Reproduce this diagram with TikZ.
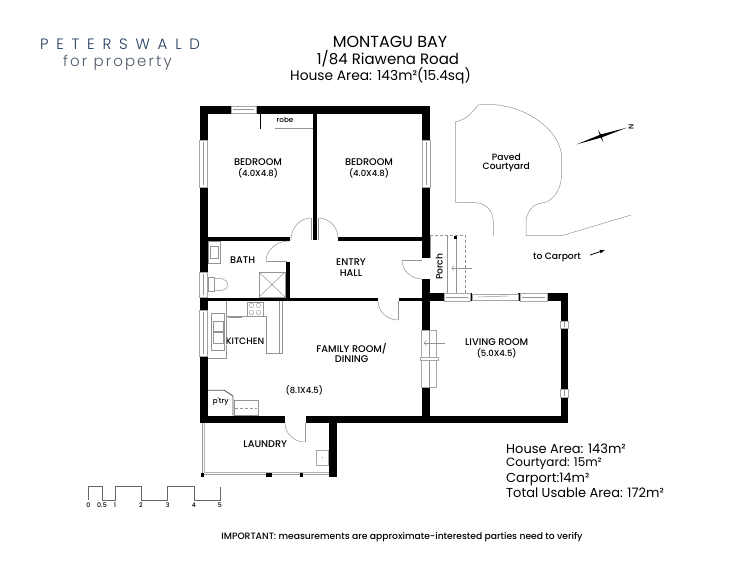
\documentclass[tikz,border=0pt]{standalone}
\usepackage{fontspec}
\setmainfont{Poppins}
\newfontfamily\logofont[LetterSpace=52]{Poppins Light}
\newfontfamily\logosubfont[LetterSpace=14]{Poppins Light}
\newfontfamily\roomfont{Poppins Medium}
\usetikzlibrary{calc,positioning}
\definecolor{logonavy}{HTML}{1F3A5C}
\definecolor{logogrey}{HTML}{4A5766}
\tikzset{
    wall/.style={fill=black,draw=none},
    fitting/.style={draw=black!42,line width=0.5pt},
    frame/.style={draw=black!35,fill=white,line width=0.6pt},
    room/.style={font=\roomfont\fontsize{9.7}{11}\selectfont,inner sep=0pt,text=black},
    roomsize/.style={room,font=\roomfont\fontsize{8.5}{10}\selectfont},
    roomsmall/.style={room,font=\roomfont\fontsize{7.2}{9}\selectfont},
    roomlower/.style={room,font=\roomfont\fontsize{9.2}{11}\selectfont},
    areatext/.style={font=\fontsize{13}{15}\selectfont,inner sep=0pt,anchor=west,text=black},
    scaletext/.style={font=\roomfont\fontsize{6.3}{7}\selectfont,inner sep=0pt,text=black}
}
\newcommand{\doorarc}[3]{\draw[fitting] (#1) .. controls ($(#1)!0.55!(#2)$) and ($(#3)!0.55!(#2)$) .. (#3);}
\begin{document}
\begin{tikzpicture}[x=1pt,y=-1pt]
    \useasboundingbox (0,0) rectangle (750,579);

    \node[inner sep=0pt,text=logonavy,font=\logofont\fontsize{15}{17}\selectfont] (logomain) at (120,44) {PETERSWALD};
    \node[inner sep=0pt,text=logogrey,font=\logosubfont\fontsize{15}{17}\selectfont] (logosub) at (117.5,63) {for property};

    \node[inner sep=0pt,font=\fontsize{16}{18}\selectfont] (titlename) at (390,42) {MONTAGU BAY};
    \node[inner sep=0pt,font=\fontsize{15}{17}\selectfont] (titleaddr) at (388,59) {1/84 Riawena Road};
    \node[inner sep=0pt,font=\fontsize{13.8}{16}\selectfont] (titlearea) at (380.5,76) {House Area: 143m²(15.4sq)};

    \foreach \a/\b/\c/\d in {
        200/106/430/113.5, 200/106/207.5/423, 422/106/429.5/258, 422/279/429.5/423,
        313/113/316.7/240, 207/237/290/240.5, 338/237/422/240.5,
        286/262/289.5/298, 200/297.5/378/301, 399/297.5/422/301,
        429/293/444/301, 547/293/568/301, 470/293/472/301, 518/293/520/301,
        561/293/568/423, 200/416/285/423.3, 305.7/416/568/423.3,
        329/423/336.7/476.7} {
        \fill[wall] (\a,\b) rectangle (\c,\d);
    }

    \foreach \a/\b/\c/\d in {
        231/106/256/113.5, 199.5/140/207.5/187, 422/140/430/187,
        199.5/272/207.5/297, 199.5/310/207.5/356, 444/293/470/301,
        520/293/547/301, 560.5/321/568.5/328, 560.5/389/568.5/397} {
        \draw[frame] (\a,\b) rectangle (\c,\d);
    }
    \draw[fitting] (233,109.7) -- (254,109.7);
    \draw[fitting] (203.5,142) -- (203.5,185);
    \draw[fitting] (426,142) -- (426,185);
    \draw[fitting] (203.5,274) -- (203.5,295);
    \draw[fitting] (203.5,312) -- (203.5,354);
    \draw[fitting] (446,297) -- (468,297);
    \draw[fitting] (522,297) -- (545,297);
    \draw[fitting] (564.5,322) -- (564.5,327);
    \draw[fitting] (564.5,390) -- (564.5,396);
    \draw[frame] (472,294) rectangle (518,300);
    \draw[fitting] (478,297) -- (508,296);

    \fill[wall] (260,113) rectangle (261.2,129);
    \draw[fitting] (275,128.5) -- (313,128.5);

    \doorarc{291,240}{291,218}{311,218}
    \draw[fitting] (311,218) -- (311,240);
    \doorarc{338,238}{338,218}{318.3,218}
    \draw[fitting] (318.3,218) -- (318.3,240);
    \doorarc{289,241}{266,241}{266,261}
    \draw[fitting] (266,261) -- (287,261);
    \doorarc{402,260}{402,279}{422,279}
    \draw[fitting] (402,260) -- (422,260);
    \doorarc{378,301}{378,320}{398,320}
    \draw[fitting] (398,301) -- (398,320);
    \doorarc{285,423}{285,442}{305,442}
    \draw[fitting] (305,423) -- (305,442);

    \draw[fitting] (208,241.5) rectangle (220.7,263.3);
    \draw[fitting] (210,246.5) rectangle (218.5,258.5);
    \draw[fitting] (208,277.5) rectangle (214,291.5);
    \draw[fitting] (214,279) .. controls (219,277) and (228,279) .. (228,285) .. controls (228,290) and (219,292) .. (214,290);
    \draw[fitting] (259,272) rectangle (285,297);
    \draw[fitting] (259,272) -- (285,297);
    \draw[fitting] (285,272) -- (259,297);

    \draw[fitting] (226,301) -- (226,316) -- (266.7,316);
    \draw[fitting] (266.7,316) -- (266.7,353) -- (282.7,353) -- (282.7,301);
    \draw[fitting] (279.3,301) -- (279.3,353);
    \draw[fitting] (247,302) rectangle (263,316);
    \foreach \a/\b in {251.5/305.5, 258.5/305.5, 251.5/312.5, 258.5/312.5} {
        \draw[fitting,line width=0.4pt] (\a,\b) circle (2.2);
    }
    \draw[fitting] (228,317.5) -- (241.5,317.5);
    \draw[fitting] (208,358.3) -- (226,358.3) -- (226,316);
    \draw[fitting] (211,313.5) rectangle (224.3,350);
    \draw[fitting] (213,321.7) rectangle (223,331.7);
    \draw[fitting] (213,332.5) rectangle (223,343.5);
    \draw[fitting] (234,400.3) rectangle (258.3,415.7);
    \draw[fitting,densely dashed] (235,408.3) -- (257,408.3);
    \draw[black!70,line width=0.8pt] (207.5,390.3) -- (224.3,390.3) -- (233,396) -- (233,415.7);

    \draw[frame] (316.7,450) rectangle (328.3,465);
    \fill[black!50] (322.5,457.5) circle (0.5);
    \draw[black!40,line width=0.9pt] (202,423.3) -- (202,474);
    \draw[black!30,line width=0.5pt] (204,423.3) -- (204,473);
    \draw[black!40,line width=0.9pt] (202,474.5) -- (329,474.5);
    \draw[black!30,line width=0.5pt] (204,472.3) -- (329,472.3);
    \foreach \a/\b in {200.5/203.8, 266/271.5, 300/303.3} {
        \fill[wall] (\a,473) rectangle (\b,476.5);
    }

    \draw[frame] (421.7,330) rectangle (436.7,387);
    \draw[fitting] (429.5,330) -- (429.5,387);
    \draw[frame] (420,357) rectangle (438,360);
    \draw[fitting] (426.5,340.5) -- (424,343) -- (426.5,345.5);
    \draw[fitting] (424,343) -- (445,343);

    \draw[fitting,densely dashed] (430,235) -- (465,235) -- (465,293);
    \draw[fitting] (447.7,235) -- (447.7,293);
    \draw[fitting] (456.7,235) -- (456.7,293);
    \draw[fitting] (430,235) -- (430,258);
    \fill[wall] (453.7,235.7) rectangle (456.7,238.7);
    \draw[fitting] (454,265.5) -- (451.7,268) -- (454,270.5);
    \draw[fitting] (451.7,268) -- (471.7,268);

    \draw[fitting] (493.3,235.7) -- (493.3,221.7) .. controls (493.3,210) and (485,202.7) .. (475,202.7)
        -- (455.7,202.3) -- (455.7,121.7) .. controls (466,120) and (473,112) .. (478,105)
        .. controls (522,100) and (561.7,130) .. (561.7,158) -- (561.7,175)
        .. controls (561,190) and (553,202) .. (541.7,203) .. controls (532,204) and (526,213) .. (526,223)
        -- (526,235.7) -- (561.7,235.7) -- (631,215);

    \fill[black] (576.7,144.3) -- (600.7,134.5) -- (626.7,127.7) -- (601.5,137.5) -- cycle;
    \fill[black] (598,130) -- (600,136) -- (603,142) -- (601.7,135.5) -- cycle;
    \node[roomsmall,rotate=90] (northmark) at (631,126.7) {N};

    \draw[black,line width=0.8pt,-latex] (590,255) -- (605,250);

    \node[room] (bedrooma) at (258,162) {BEDROOM};
    \node[roomsize] (bedroomasize) at (258,173.7) {(4.0X4.8)};
    \node[room] (bedroomb) at (369,162) {BEDROOM};
    \node[roomsize] (bedroombsize) at (369,173.7) {(4.0X4.8)};
    \node[roomsmall] (robe) at (285,120) {robe};
    \node[room] (bath) at (242.7,260.3) {BATH};
    \node[room] (entry) at (351,261.7) {ENTRY};
    \node[room] (hall) at (351,272.7) {HALL};
    \node[roomlower,rotate=90] (porch) at (439.3,266.7) {Porch};
    \node[roomlower,fill=white,inner sep=0.5pt] (kitchen) at (245,341.7) {KITCHEN};
    \node[room] (family) at (351.7,348.3) {FAMILY ROOM/};
    \node[room] (dining) at (351.7,358.7) {DINING};
    \node[roomsize] (familysize) at (304.3,390.3) {(8.1X4.5)};
    \node[roomsmall] (pantry) at (220.7,402) {p'try};
    \node[room] (laundry) at (265.3,443.7) {LAUNDRY};
    \node[room] (living) at (496.7,342.3) {LIVING ROOM};
    \node[roomsize] (livingsize) at (496.7,353.3) {(5.0X4.5)};
    \node[roomlower] (paved) at (506.3,157.3) {Paved};
    \node[roomlower] (courtyard) at (506.3,167.7) {Courtyard};
    \node[roomlower] (carport) at (557,257.3) {to Carport};

    \node[areatext] (areahouse) at (506,449) {House Area: 143m²};
    \node[areatext,font=\fontsize{12}{14}\selectfont] (areacourt) at (506,464) {Courtyard: 15m²};
    \node[areatext] (areacar) at (506,479) {Carport:14m²};
    \node[areatext] (areatotal) at (506,493) {Total Usable Area: 172m²};

    \draw[black!60,line width=0.8pt] (88.3,500) -- (88.3,486.7) -- (102,486.7) -- (102,500) -- (115,500)
        -- (115,486.7) -- (141,486.7) -- (141,500) -- (167.7,500) -- (167.7,486.7) -- (194,486.7)
        -- (194,500) -- (220,500) -- (220,486.7);
    \foreach \a/\b in {88.3/0, 102/0.5, 115/1, 141/2, 167.7/3, 194/4, 220/5} {
        \node[scaletext] (tick\b) at (\a,505.5) {\b};
    }

    \node[roomlower] (notice) at (402,537) {IMPORTANT: measurements are approximate-interested parties need to verify};
\end{tikzpicture}
\end{document}
